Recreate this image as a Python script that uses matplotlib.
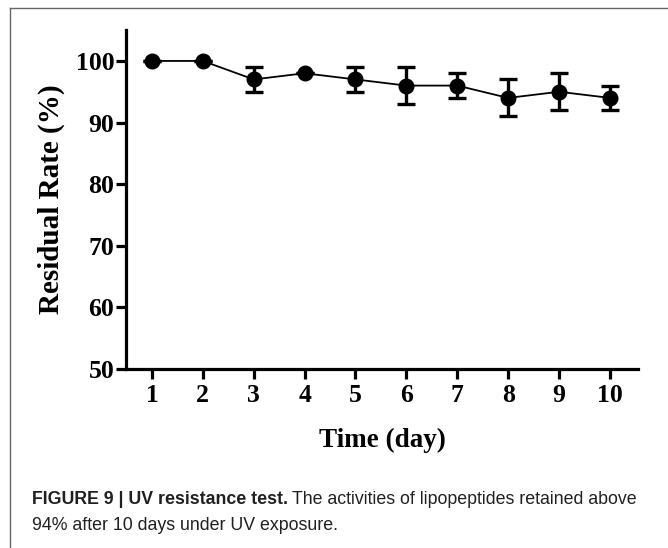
import numpy as np
import matplotlib
matplotlib.use("Agg")
import matplotlib.pyplot as plt
from matplotlib.lines import Line2D

days = [1, 2, 3, 4, 5, 6, 7, 8, 9, 10]
residual = [100, 100, 97, 98, 97, 96, 96, 94, 95, 94]
err = [0, 0, 2, 0, 2, 3, 2, 3, 3, 2]
yticks = [50, 60, 70, 80, 90, 100]

serif = ['Liberation Serif', 'DejaVu Serif']

fig = plt.figure(figsize=(6.68, 5.48), dpi=100)
ax = fig.add_axes([0.1886, 0.3266, 0.7664, 0.6184])

ax.plot(days, residual, color='black', lw=1.3, zorder=2)
ax.errorbar(days, residual, yerr=err, fmt='none', ecolor='black',
            elinewidth=2.4, capsize=6.5, capthick=2.4, zorder=3)
ax.plot(days, residual, 'o', color='black', ms=10.5, zorder=4)

ax.set_xlim(0.49, 10.55)
ax.set_ylim(50, 105)
ax.set_xticks(days)
ax.set_yticks(yticks)
for s in ['top', 'right']:
    ax.spines[s].set_visible(False)
for s in ['left', 'bottom']:
    ax.spines[s].set_linewidth(2.3)
ax.tick_params(axis='y', width=2.3, length=7, pad=1.5)
ax.tick_params(axis='x', width=2.3, length=7, pad=4)
for lab in ax.get_xticklabels() + ax.get_yticklabels():
    lab.set_family(serif)
    lab.set_fontweight('bold')
    lab.set_fontsize(18.5)
ax.set_xlabel('Time (day)', family=serif, fontweight='bold', fontsize=19.5, labelpad=15)
ax.set_ylabel('Residual Rate (%)', family=serif, fontweight='bold', fontsize=21)
ax.yaxis.set_label_coords(-0.119, 0.5)

# frame around figure panel
fig.add_artist(Line2D([9.5/668, 9.5/668], [0, 1 - 8/548], color='#666666', lw=1.0))
fig.add_artist(Line2D([9.5/668, 1], [1 - 8/548, 1 - 8/548], color='#666666', lw=1.0))

sans = ['Liberation Sans', 'DejaVu Sans']
cap_size = 12.8
bold = fig.text(32/668, 1 - 504/548, 'FIGURE 9 | UV resistance test.', family=sans,
                fontweight='bold', fontsize=cap_size, color='#231f20', va='baseline')
fig.canvas.draw()
bb = bold.get_window_extent()
fig.text(bb.x1/668 + 4/668, 1 - 504/548, 'The activities of lipopeptides retained above',
         family=sans, fontsize=cap_size, color='#231f20', va='baseline')
fig.text(32/668, 1 - 530/548, '94% after 10 days under UV exposure.', family=sans,
         fontsize=cap_size, color='#231f20', va='baseline')

fig.savefig('out.png', dpi=100)
